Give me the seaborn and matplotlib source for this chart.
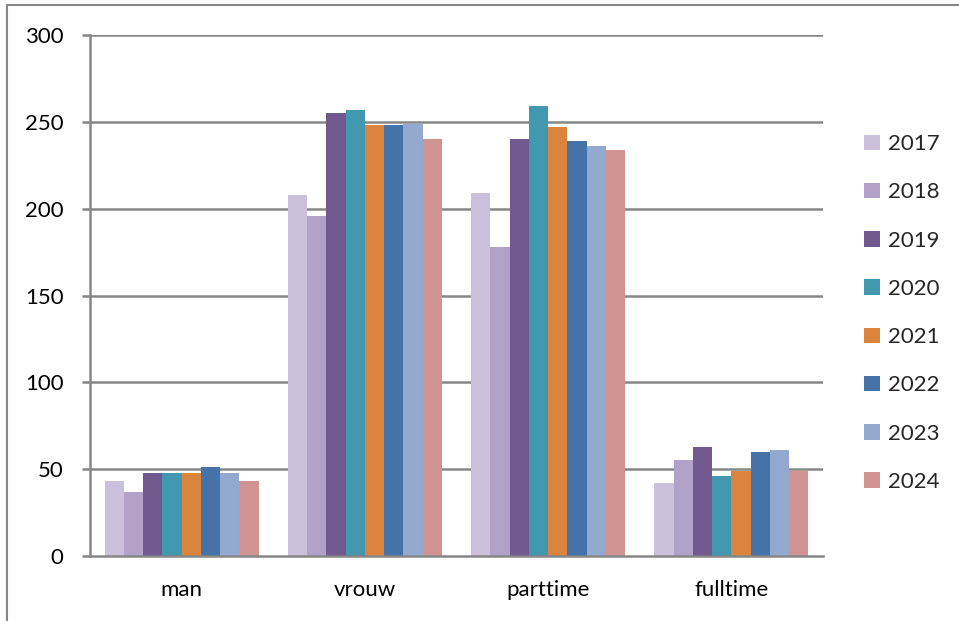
import matplotlib
matplotlib.use("Agg")
import matplotlib.pyplot as plt
import seaborn as sns
import pandas as pd
from matplotlib.lines import Line2D
from matplotlib.patches import Patch

categories = ["man", "vrouw", "parttime", "fulltime"]
years = ["2017", "2018", "2019", "2020", "2021", "2022", "2023", "2024"]
values = {
    "2017": [43, 208, 209, 42],
    "2018": [37, 196, 178, 55],
    "2019": [48, 255, 240, 63],
    "2020": [48, 257, 259, 46],
    "2021": [48, 248, 247, 49],
    "2022": [51, 248, 239, 60],
    "2023": [48, 249, 236, 61],
    "2024": [43, 240, 234, 49],
}
colors = ["#CBC0DC", "#B2A2C9", "#71588F", "#4198AF",
          "#DB843D", "#4572A7", "#93A9CF", "#D19392"]
y_ticks = [0, 50, 100, 150, 200, 250, 300]

rows = [(cat, yr, values[yr][i]) for yr in years for i, cat in enumerate(categories)]
df = pd.DataFrame(rows, columns=["categorie", "jaar", "aantal"])

sns.set_style("white")
plt.rcParams["font.family"] = ["Lato", "DejaVu Sans"]

fig = plt.figure(figsize=(9.59, 6.21), dpi=100)
ax = fig.add_axes([90 / 959, 65 / 621, 733 / 959, 521 / 621])

sns.barplot(data=df, x="categorie", y="aantal", hue="jaar", order=categories,
            hue_order=years, palette=colors, width=0.84, saturation=1,
            linewidth=0, ax=ax, legend=False)

grid_c = "#868686"
ax.set_ylim(0, 300)
ax.set_xlim(-0.5, len(categories) - 0.5)
ax.set_yticks(y_ticks)
ax.set_yticklabels([str(t) for t in y_ticks])
for t in y_ticks[1:]:
    ax.axhline(t, color=grid_c, lw=1.8, zorder=0.5)

ax.set_xticks(range(len(categories)))
ax.set_xticklabels(categories)
ax.set_xticks([i - 0.5 for i in range(len(categories) + 1)], minor=True)
ax.tick_params(axis="x", which="major", length=0, pad=17, labelsize=16, colors="black")
ax.tick_params(axis="x", which="minor", length=7, width=1.8, color=grid_c, direction="out")
ax.tick_params(axis="y", length=6, width=1.8, color=grid_c, direction="out",
               pad=13, labelsize=16, labelcolor="black", left=True)
ax.set_xlabel("")
ax.set_ylabel("")

for side in ["top", "right"]:
    ax.spines[side].set_visible(False)
for side in ["left", "bottom"]:
    ax.spines[side].set_color(grid_c)
    ax.spines[side].set_linewidth(1.8)

handles = [Patch(facecolor=c, edgecolor="none") for c in colors]
fig.legend(handles, years, loc="center left", bbox_to_anchor=(864 / 959, 1 - 313 / 621),
           frameon=False, fontsize=16, labelspacing=1.27, handlelength=0.7,
           handleheight=0.7, handletextpad=0.4, borderaxespad=0, borderpad=0)

# outer frame of the chart area
fig.add_artist(Line2D([7 / 959, 7 / 959], [0, 1 - 5 / 621], transform=fig.transFigure,
                      color=grid_c, lw=1.5))
fig.add_artist(Line2D([7 / 959, 1], [1 - 5 / 621, 1 - 5 / 621], transform=fig.transFigure,
                      color=grid_c, lw=1.5))

fig.savefig("out.png", dpi=100)
